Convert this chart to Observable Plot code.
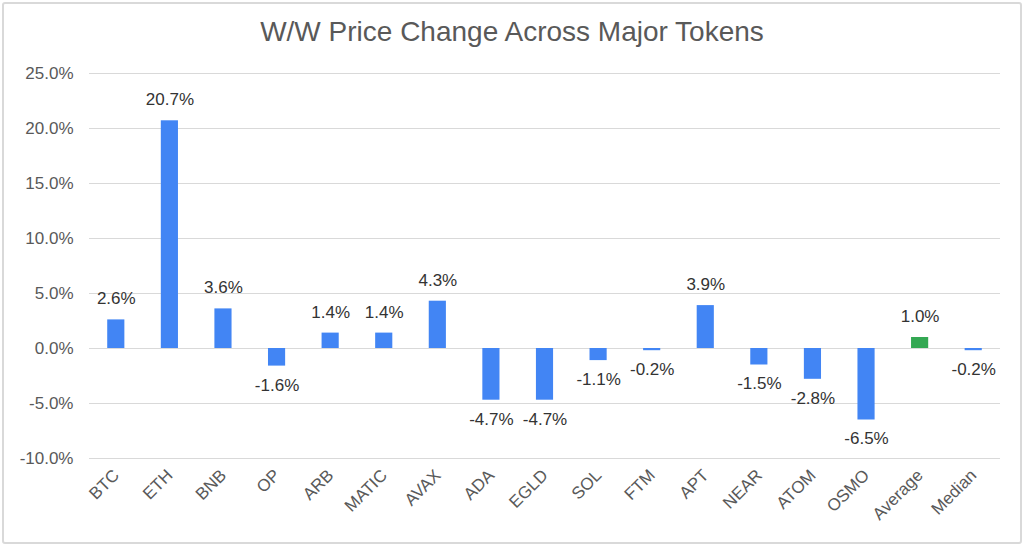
<!DOCTYPE html>
<html>
<head>
<meta charset="utf-8">
<script src="https://cdn.jsdelivr.net/npm/d3@7"></script>
<script src="https://cdn.jsdelivr.net/npm/@observablehq/plot@0.6"></script>
<style>
  html, body { margin: 0; padding: 0; background: #fff; }
  #frame {
    position: absolute; left: 2px; top: 2px; width: 1016px; height: 538px;
    border: 2px solid #d9d9d9; border-radius: 3px; overflow: hidden;
  }
  #title {
    position: absolute; left: 0; top: 0; width: 1024px; height: 58px;
    text-align: center; font-family: "Liberation Sans", Arial, sans-serif;
    font-size: 28px; color: #595959; line-height: 64px;
  }
  #chart { position: absolute; left: 0; top: 58px; width: 1024px; }
</style>
</head>
<body>
<div id="frame"></div>
<div id="title">W/W Price Change Across Major Tokens</div>
<div id="chart"></div>
<script>
const tokens = ["BTC","ETH","BNB","OP","ARB","MATIC","AVAX","ADA","EGLD","SOL","FTM","APT","NEAR","ATOM","OSMO","Average","Median"];
const changes = [2.6, 20.7, 3.6, -1.6, 1.4, 1.4, 4.3, -4.7, -4.7, -1.1, -0.2, 3.9, -1.5, -2.8, -6.5, 1.0, -0.2];
const yTicks = [-10, -5, 0, 5, 10, 15, 20, 25];

const data = tokens.map((t, i) => ({token: t, value: changes[i], kind: t === "Average" ? "avg" : "tok"}));
const fmt = v => v.toFixed(1) + "%";

const chart = Plot.plot({
  width: 1024,
  height: 488,
  marginTop: 15,
  marginBottom: 88,
  marginLeft: 89,
  marginRight: 24,
  style: {fontFamily: "Liberation Sans, Arial, sans-serif", fontSize: "17px", color: "#595959", background: "transparent"},
  x: {domain: tokens, paddingInner: 0.68, paddingOuter: 0.34, round: false, label: null},
  y: {domain: [-10, 25], ticks: yTicks, label: null},
  marks: [
    Plot.gridY(yTicks, {stroke: "#d9d9d9", strokeOpacity: 1, strokeWidth: 1.2}),
    Plot.barY(data, {x: "token", y: "value", fill: d => d.kind === "avg" ? "#34a853" : "#4285f4"}),
    Plot.text(data.filter(d => d.value >= 0), {x: "token", y: "value", text: d => fmt(d.value), dy: -21, fill: "#333", fontSize: 17}),
    Plot.text(data.filter(d => d.value < 0), {x: "token", y: "value", text: d => fmt(d.value), dy: 19, fill: "#333", fontSize: 17}),
    Plot.axisY(yTicks, {tickSize: 0, tickPadding: 16, tickFormat: fmt, fill: "#595959", fontSize: 17}),
    Plot.axisX({tickSize: 0, tickPadding: 14, tickRotate: -45, fill: "#595959", fontSize: 17})
  ]
});
document.getElementById("chart").appendChild(chart);
</script>
</body>
</html>
